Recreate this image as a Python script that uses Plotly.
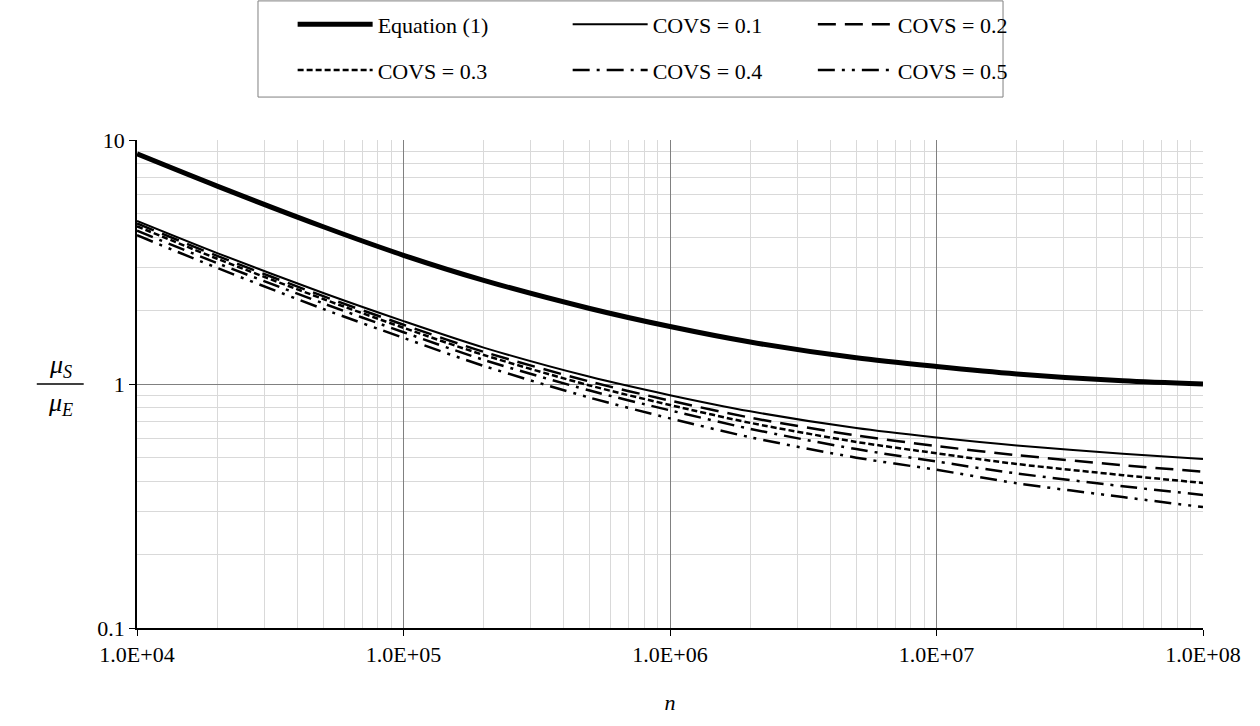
import plotly.graph_objects as go

n_vals = [1e4, 2e4, 5e4, 1e5, 2e5, 5e5, 1e6, 2e6, 5e6, 1e7, 2e7, 5e7, 1e8]
eq1 = [8.77, 6.47, 4.41, 3.37, 2.66, 2.04, 1.72, 1.486, 1.28, 1.18, 1.10, 1.03, 1.0]
covs_01 = [4.66, 3.44, 2.36, 1.81, 1.41, 1.07, 0.90, 0.773, 0.66, 0.604, 0.56, 0.518, 0.493]
covs_02 = [4.55, 3.35, 2.29, 1.75, 1.355, 1.023, 0.855, 0.728, 0.615, 0.557, 0.511, 0.465, 0.437]
covs_03 = [4.43, 3.26, 2.23, 1.70, 1.315, 0.986, 0.820, 0.693, 0.579, 0.520, 0.470, 0.423, 0.393]
covs_04 = [4.25, 3.13, 2.14, 1.63, 1.256, 0.94, 0.78, 0.655, 0.541, 0.481, 0.430, 0.381, 0.351]
covs_05 = [4.07, 2.99, 2.03, 1.545, 1.186, 0.879, 0.723, 0.605, 0.499, 0.445, 0.392, 0.344, 0.313]

names = ["Equation (1)", "COVS = 0.1", "COVS = 0.2", "COVS = 0.3", "COVS = 0.4", "COVS = 0.5"]
series = [eq1, covs_01, covs_02, covs_03, covs_04, covs_05]
widths = [5, 2, 2.5, 2.5, 2.5, 2.5]
dashes = ["solid", "solid", "18px,9px", "6px,3px", "17px,7px,3px,7px", "17px,7px,3px,7px,3px,7px"]
# legend laid out as 3 columns x 2 rows
legend_ids = ["legend", "legend2", "legend3", "legend", "legend2", "legend3"]

x_tickvals = [1e4, 1e5, 1e6, 1e7, 1e8]
x_ticktext = ["1.0E+04", "1.0E+05", "1.0E+06", "1.0E+07", "1.0E+08"]
y_tickvals = [0.1, 1, 10]
y_ticktext = ["0.1", "1", "10"]

x_minor = [m * 10 ** e for e in range(4, 8) for m in range(2, 10)]
y_minor = [m * 10 ** e for e in range(-1, 1) for m in range(2, 10)]

font_family = "Liberation Serif"
fs = 22

fig = go.Figure()
for i, (name, ys, w, d, lg) in enumerate(zip(names, series, widths, dashes, legend_ids)):
    fig.add_trace(go.Scatter(
        x=n_vals, y=ys, name=name, mode="lines", legend=lg, legendgroup=f"g{i}",
        line=dict(color="black", width=w, dash=d, shape="spline", smoothing=0.8),
    ))

legend_common = dict(
    orientation="v", xanchor="left", yanchor="middle", y=1.1895,
    borderwidth=0, bgcolor="rgba(0,0,0,0)", itemwidth=75, tracegroupgap=14,
    font=dict(family=font_family, size=fs, color="black"),
)

fig.update_layout(
    width=1260, height=726,
    margin=dict(l=137, r=57, t=140, b=98, autoexpand=False),
    paper_bgcolor="white", plot_bgcolor="white",
    font=dict(family=font_family, size=fs, color="black"),
    showlegend=True,
    legend=dict(x=0.146, **legend_common),
    legend2=dict(x=0.404, **legend_common),
    legend3=dict(x=0.634, **legend_common),
    xaxis=dict(
        type="log", range=[4, 8],
        tickvals=x_tickvals, ticktext=x_ticktext,
        showgrid=True, gridcolor="#808080", gridwidth=1,
        showline=True, linecolor="black", linewidth=1.5,
        ticks="outside", ticklen=6, tickcolor="black",
        minor=dict(tickvals=x_minor, showgrid=True, gridcolor="#d9d9d9", gridwidth=1, ticks=""),
        title=dict(text="<i>n</i>", font=dict(family=font_family, size=fs), standoff=28),
        tickfont=dict(family=font_family, size=fs),
        zeroline=False, mirror=False,
    ),
    yaxis=dict(
        type="log", range=[-1, 1],
        tickvals=y_tickvals, ticktext=y_ticktext,
        showgrid=True, gridcolor="#808080", gridwidth=1,
        showline=True, linecolor="black", linewidth=1.5,
        ticks="outside", ticklen=6, tickcolor="black",
        minor=dict(tickvals=y_minor, showgrid=True, gridcolor="#d9d9d9", gridwidth=1, ticks=""),
        tickfont=dict(family=font_family, size=fs),
        zeroline=False,
    ),
)

# legend frame around the legend entries
fig.add_shape(type="rect", xref="paper", yref="paper", x0=0.1135, x1=0.8124, y0=1.088, y1=1.285,
              line=dict(color="#808080", width=1), fillcolor="rgba(0,0,0,0)", layer="below")

# y-axis label as a fraction  μS / μE
fig.add_annotation(xref="paper", yref="paper", x=-0.072, y=0.537, xanchor="center", yanchor="middle",
                   text="<i>μ<sub>S</sub></i>", showarrow=False, font=dict(family=font_family, size=26))
fig.add_annotation(xref="paper", yref="paper", x=-0.072, y=0.46, xanchor="center", yanchor="middle",
                   text="<i>μ<sub>E</sub></i>", showarrow=False, font=dict(family=font_family, size=26))
fig.add_shape(type="line", xref="paper", yref="paper", x0=-0.094, x1=-0.05, y0=0.5, y1=0.5,
              line=dict(color="black", width=1.5))

fig.write_html("out.html")
